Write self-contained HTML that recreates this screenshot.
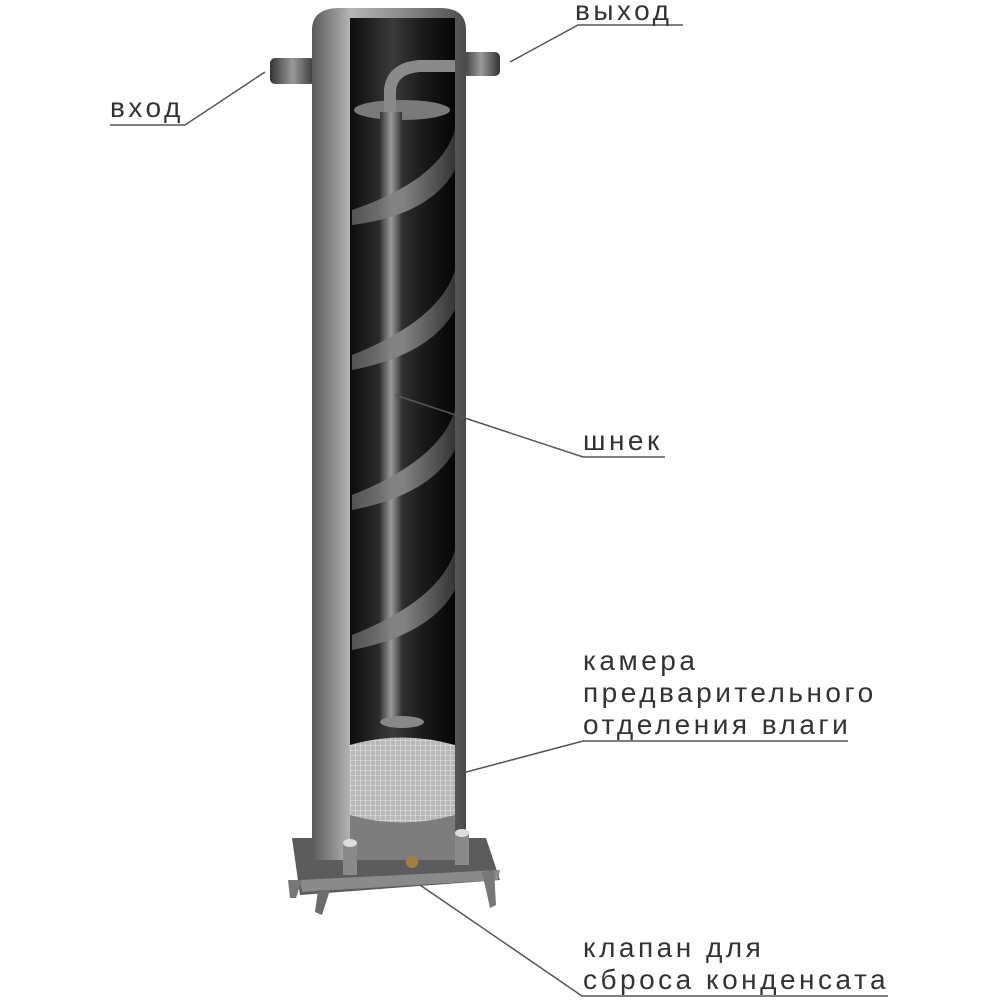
<!DOCTYPE html>
<html><head><meta charset="utf-8"><style>
html,body{margin:0;padding:0;background:#fff;width:1000px;height:1000px;overflow:hidden}
text{font-family:"Liberation Sans",sans-serif;font-size:28px;fill:#333;letter-spacing:3.5px}
</style></head><body>
<svg width="1000" height="1000" viewBox="0 0 1000 1000" xmlns="http://www.w3.org/2000/svg">
<defs>
<linearGradient id="shell" x1="0" x2="1">
<stop offset="0" stop-color="#5a5a5a"/><stop offset="0.25" stop-color="#b5b5b5"/><stop offset="0.6" stop-color="#8a8a8a"/><stop offset="1" stop-color="#4a4a4a"/></linearGradient>
<linearGradient id="inner" x1="0" x2="1">
<stop offset="0" stop-color="#0c0c0c"/><stop offset="0.4" stop-color="#3a3a3a"/><stop offset="0.7" stop-color="#1a1a1a"/><stop offset="1" stop-color="#050505"/></linearGradient>
<linearGradient id="rod" x1="0" x2="1">
<stop offset="0" stop-color="#333"/><stop offset="0.5" stop-color="#9a9a9a"/><stop offset="1" stop-color="#333"/></linearGradient>
<linearGradient id="blade" x1="0" x2="1">
<stop offset="0" stop-color="#5a5a5a"/><stop offset="0.5" stop-color="#8c8c8c"/><stop offset="1" stop-color="#3a3a3a"/></linearGradient>
<pattern id="mesh" width="5" height="5" patternUnits="userSpaceOnUse">
<rect width="5" height="5" fill="#b8b8b8"/><path d="M0 0H5M0 0V5" stroke="#e8e8e8" stroke-width="1"/></pattern>
</defs>
<rect x="270" y="58" width="45" height="26" rx="5" fill="url(#rod)"/>
<rect x="462" y="52" width="38" height="24" rx="5" fill="url(#rod)"/>
<path d="M312 30 Q312 8 340 8 L440 8 Q466 8 466 30 L466 860 L312 860 Z" fill="url(#shell)"/>
<path d="M350 18 L455 18 L455 790 Q402 805 350 790 Z" fill="url(#inner)"/>
<ellipse cx="402" cy="110" rx="48" ry="10" fill="#7a7a7a"/>
<path d="M390 112 L390 90 Q392 68 420 66 L455 66" stroke="#8a8a8a" stroke-width="12" fill="none"/>
<rect x="380" y="112" width="22" height="610" fill="url(#rod)"/>
<g fill="url(#blade)" opacity="0.9">
<path d="M352 210 Q440 180 455 130 L455 170 Q430 215 352 225 Z"/>
<path d="M352 355 Q440 320 455 270 L455 310 Q430 355 352 370 Z"/>
<path d="M352 495 Q440 460 455 410 L455 450 Q430 495 352 510 Z"/>
<path d="M352 635 Q440 600 455 550 L455 590 Q430 635 352 650 Z"/>
</g>
<ellipse cx="402" cy="722" rx="22" ry="6" fill="#888"/>
<path d="M350 745 Q402 730 455 745 L455 815 Q402 830 350 815 Z" fill="url(#mesh)"/>
<path d="M350 815 Q402 830 455 815 L455 865 L350 865 Z" fill="#7d7d7d"/>
<path d="M292 838 L312 838 L312 860 L466 860 L466 838 L486 838 L500 880 L300 895 Z" fill="#5c5c5c"/>
<path d="M300 880 L500 870 L498 880 L302 892 Z" fill="#8a8a8a"/>
<path d="M288 880 L302 880 L296 898 L290 898 Z" fill="#777"/>
<path d="M318 890 L330 890 L322 915 L315 912 Z" fill="#6d6d6d"/>
<path d="M482 872 L494 870 L496 905 L490 908 Z" fill="#777"/>
<rect x="343" y="843" width="14" height="32" fill="#8a8a8a"/><ellipse cx="350" cy="843" rx="7" ry="4" fill="#ddd"/>
<rect x="455" y="833" width="14" height="32" fill="#8a8a8a"/><ellipse cx="462" cy="833" rx="7" ry="4" fill="#ddd"/>
<circle cx="412" cy="862" r="6" fill="#a08040"/>
<g stroke="#555" stroke-width="1.5" fill="none">
<path d="M683 25 L578 25 L510 62"/>
<path d="M110 125 L185 125 L265 72"/>
<path d="M665 457 L583 457 L395 395"/>
<path d="M848 741 L583 741 L455 775"/>
<path d="M420 885 L582 996 L888 996"/>
</g>
<text x="575" y="20">выход</text>
<text x="110" y="117">вход</text>
<text x="583" y="450">шнек</text>
<text x="583" y="670">камера</text>
<text x="583" y="702">предварительного</text>
<text x="583" y="734">отделения влаги</text>
<text x="583" y="957">клапан для</text>
<text x="583" y="989">сброса конденсата</text>
</svg>
</body></html>
